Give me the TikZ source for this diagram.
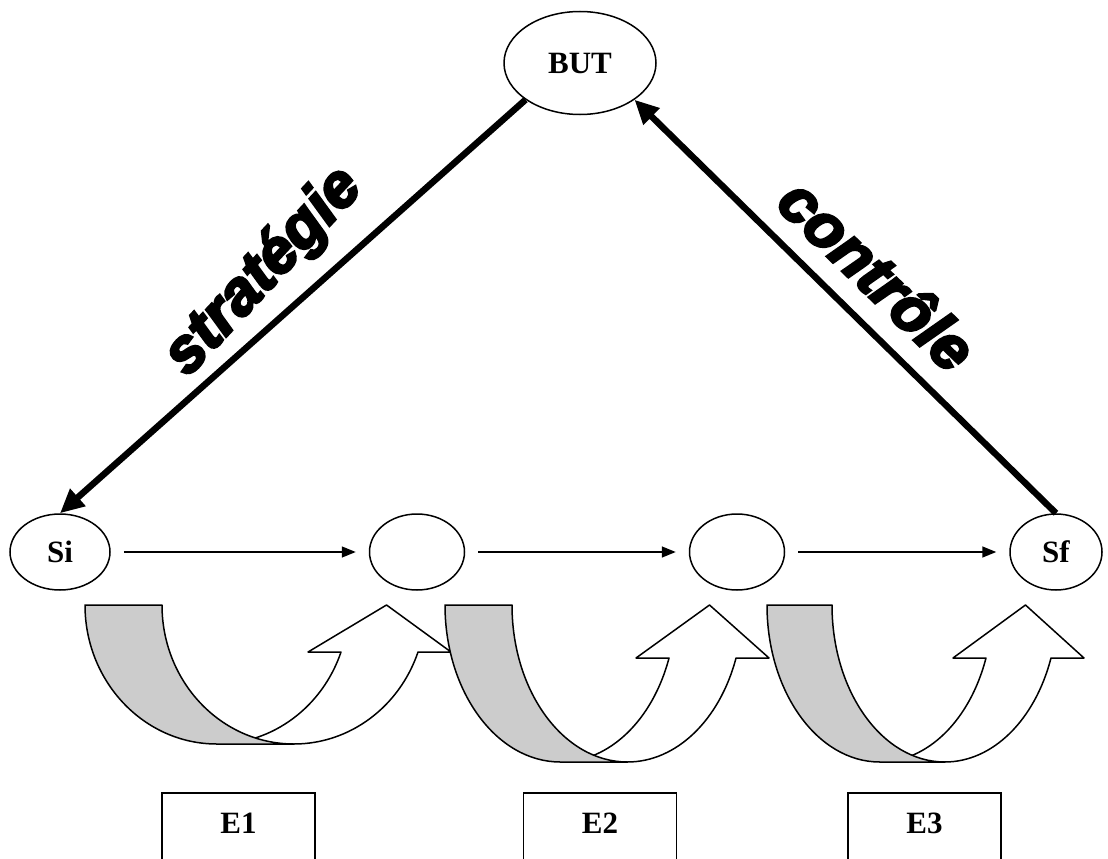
\documentclass[tikz,border=0pt]{standalone}
\usepackage{fontspec}
\setmainfont{Liberation Serif}
\newfontfamily\heavyfont{Liberation Sans}[BoldItalicFeatures={FakeBold=4.5}]
\usepackage{tikz}
\usetikzlibrary{arrows.meta, positioning, shapes.geometric}
\definecolor{mainBlack}{gray}{0.0}
\definecolor{bandGray}{gray}{0.8}

\begin{document}
\begin{tikzpicture}[x=1pt, y=-1pt, >={Triangle[length=14pt, width=11pt]},
    ovalNode/.style={ellipse, draw, line width=1.5pt, inner sep=0pt, font=\fontsize{31}{31}\selectfont\bfseries},
    stageText/.style={font=\fontsize{31}{31}\selectfont\bfseries},
    stageBox/.style={draw, line width=1.5pt},
    bigArrow/.style={line width=6.5pt, mainBlack, -{Triangle[length=24pt, width=22pt]}},
    smallArrow/.style={->, line width=1.5pt, shorten <=13pt, shorten >=13pt},
    heavyText/.style={font=\heavyfont\bfseries\itshape\fontsize{62}{62}\selectfont},
    ribbon/.style={line width=1.5pt, line join=round}]
    \clip (0,0) rectangle (1108,859);

    % states
    \node[ovalNode, minimum width=152pt, minimum height=103pt] (but) at (580,63) {BUT};
    \node[ovalNode, minimum width=100pt, minimum height=76pt] (si) at (60,552) {Si};
    \node[ovalNode, minimum width=95pt, minimum height=76pt] (s1) at (417,552) {};
    \node[ovalNode, minimum width=95pt, minimum height=76pt] (s2) at (737,552) {};
    \node[ovalNode, minimum width=92pt, minimum height=76pt] (sf) at (1056,552) {Sf};

    % path from Si to Sf
    \draw[smallArrow] (si) -- (s1);
    \draw[smallArrow] (s1) -- (s2);
    \draw[smallArrow] (s2) -- (sf);

    % strategy and control
    \draw[bigArrow] (but.214) -- (si.north);
    \draw[bigArrow] (sf.north) -- (but.-34);
    \node[heavyText, rotate=47] (strat) at (264,272) {stratégie};
    \node[heavyText, rotate=-44] (ctrl) at (878,274) {contrôle};

    % U-turn arrows: front band first, back band on top
    \foreach \a/\w/\rx/\ry/\hb in {216.9/77/131.9/139/652, 560.4/67/115.4/157/658, 879.8/65/112.8/157/658}{
        \pgfmathsetmacro\ang{asin((\hb-605)/\ry)}
        \pgfmathsetmacro\xi{\a+\rx*cos(\ang)}
        \pgfmathsetmacro\xo{\a+\w+\rx*cos(\ang)}
        \pgfmathsetmacro\tip{(\xi+\xo)/2+7}
        \draw[ribbon, fill=white] (\a+\w,605+\ry) arc[start angle=90, end angle=\ang, x radius=\rx, y radius=\ry]
            -- (\xo+33,\hb) -- (\tip,605) -- (\xi-33,\hb) -- (\xi,\hb)
            arc[start angle=\ang, end angle=90, x radius=\rx, y radius=\ry] -- cycle;
        \draw[ribbon, fill=bandGray] (\a-\rx,605) arc[start angle=180, end angle=90, x radius=\rx, y radius=\ry]
            -- (\a+\w,605+\ry) arc[start angle=90, end angle=180, x radius=\rx, y radius=\ry] -- cycle;
    }

    % stages
    \node[stageText] (e1) at (238.5,823) {E1};
    \node[stageText] (e2) at (600,823) {E2};
    \node[stageText] (e3) at (924.5,823) {E3};
    \foreach \e in {e1, e2, e3}
        \draw[stageBox] (\e) ++(-76.5,-30) rectangle ++(153,100);
\end{tikzpicture}
\end{document}
